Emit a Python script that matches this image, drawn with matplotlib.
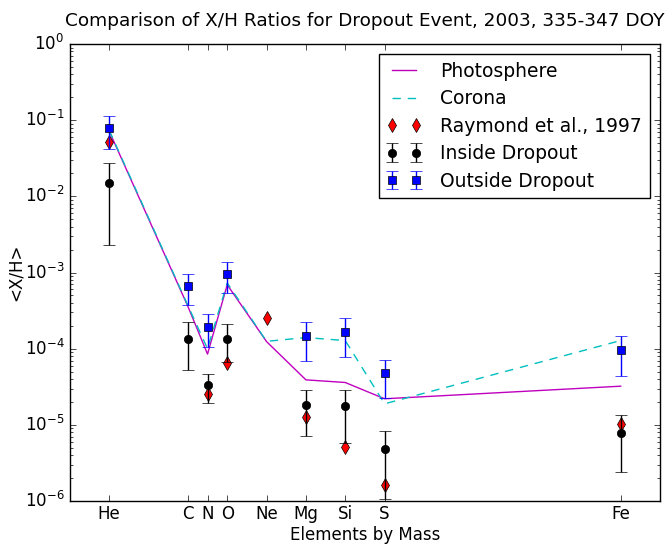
import matplotlib
matplotlib.use("Agg")
import matplotlib.pyplot as plt
import numpy as np

plt.style.use('classic')

elements = ['He', 'C', 'N', 'O', 'Ne', 'Mg', 'Si', 'S', 'Fe']
mass = [4, 12, 14, 16, 20, 24, 28, 32, 56]

photosphere = [7.2e-2, 3.6e-4, 8.5e-5, 6.9e-4, 1.24e-4, 3.9e-5, 3.6e-5, 2.2e-5, 3.22e-5]
corona = [7.4e-2, 3.7e-4, 1.0e-4, 7.3e-4, 1.25e-4, 1.4e-4, 1.28e-4, 1.89e-5, 1.28e-4]

raymond_mass = [4, 14, 16, 20, 24, 28, 32, 56]
raymond = [5.1e-2, 2.53e-5, 6.45e-5, 2.56e-4, 1.27e-5, 5.1e-6, 1.62e-6, 1.02e-5]

data_mass = [4, 12, 14, 16, 24, 28, 32, 56]
inside = [1.5e-2, 1.36e-4, 3.3e-5, 1.36e-4, 1.81e-5, 1.76e-5, 4.8e-6, 7.9e-6]
inside_hi = [2.77e-2, 2.23e-4, 4.6e-5, 2.1e-4, 2.9e-5, 2.9e-5, 8.4e-6, 1.34e-5]
inside_lo = [2.3e-3, 5.2e-5, 1.95e-5, 6.6e-5, 7.2e-6, 5.75e-6, 1.05e-6, 2.44e-6]

outside = [7.8e-2, 6.7e-4, 1.93e-4, 9.7e-4, 1.49e-4, 1.68e-4, 4.8e-5, 9.55e-5]
outside_hi = [1.15e-1, 9.6e-4, 2.84e-4, 1.39e-3, 2.25e-4, 2.54e-4, 7.2e-5, 1.47e-4]
outside_lo = [4.2e-2, 3.76e-4, 1.05e-4, 5.45e-4, 6.85e-5, 7.9e-5, 2.24e-5, 4.35e-5]

fig = plt.figure(figsize=(6.65, 5.44), dpi=100, facecolor='white')
ax = fig.add_axes([0.105, 0.079, 0.8875, 0.84])

ax.plot(mass, photosphere, color='m', linestyle='-', label='Photosphere')
ax.plot(mass, corona, color='c', linestyle='--', dashes=(6, 5), label='Corona')
ax.plot(raymond_mass, raymond, 'rd', markersize=7, label='Raymond et al., 1997')

ins = np.array(inside)
ierr = [ins - np.array(inside_lo), np.array(inside_hi) - ins]
ax.errorbar(data_mass, inside, yerr=ierr, fmt='ko', markersize=6, ecolor='k',
            capsize=4, label='Inside Dropout')
out = np.array(outside)
oerr = [out - np.array(outside_lo), np.array(outside_hi) - out]
ax.errorbar(data_mass, outside, yerr=oerr, fmt='bs', markersize=6, ecolor='b',
            capsize=4, label='Outside Dropout')

ax.set_yscale('log')
ax.set_ylim(1e-6, 1)
ax.set_xlim(0, 60)
ax.set_xticks(mass)
ax.set_xticklabels(elements)
ax.tick_params(axis='x', which='major', pad=3)
ax.set_xlabel('Elements by Mass', labelpad=2)
ax.set_ylabel('<X/H>', labelpad=0)
ax.set_title('Comparison of X/H Ratios for Dropout Event, 2003, 335-347 DOY',
             fontsize=13.3, y=1.025)
ax.legend(loc='upper right', numpoints=2, fontsize=13.5, handlelength=1.9,
          handletextpad=1.0, borderaxespad=0.55, labelspacing=0.45)

fig.savefig('out.png', dpi=100, facecolor='white')
